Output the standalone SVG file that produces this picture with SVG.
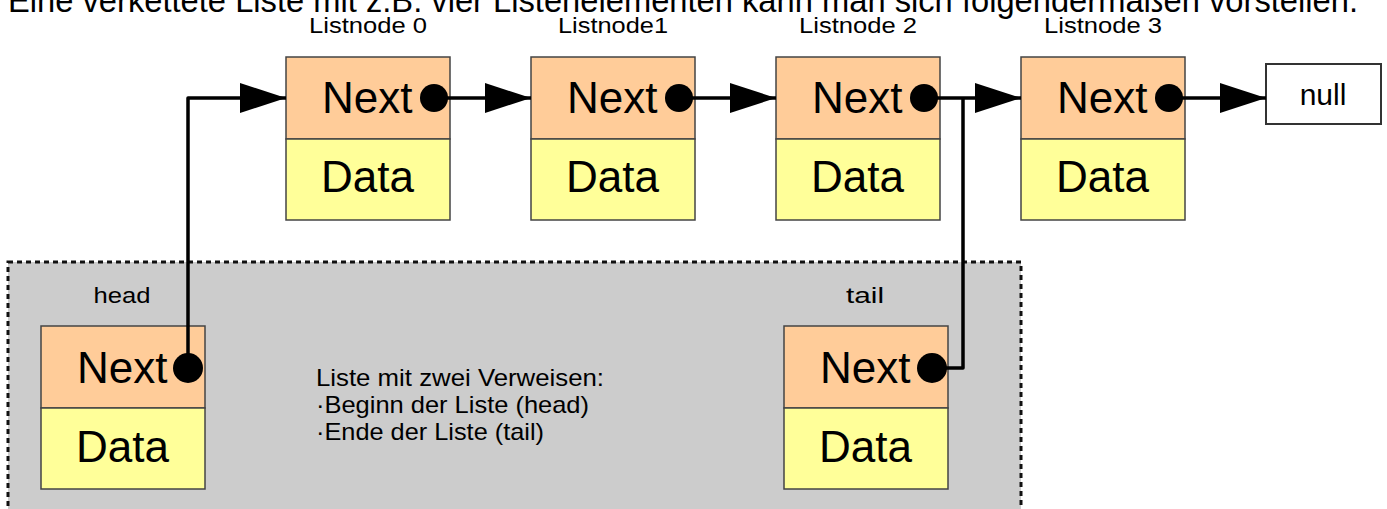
<svg xmlns="http://www.w3.org/2000/svg" width="1387" height="509" viewBox="0 0 1387 509">
<style>
text{font-family:"Liberation Sans",Arial,sans-serif;fill:#000}
.nx{fill:#ffcc99;stroke:#444;stroke-width:1.5}
.dt{fill:#ffff99;stroke:#444;stroke-width:1.5}
.big{font-size:44px}
.lbl{font-size:22px;text-anchor:middle}
.desc{font-size:24px}
.con{fill:none;stroke:#000;stroke-width:3.5;stroke-linejoin:round}
.dot{fill:#000}
</style>
<defs>
<marker id="arr" markerUnits="userSpaceOnUse" markerWidth="46" markerHeight="30" refX="46" refY="15" orient="auto">
<path d="M0,0 L46,15 L0,30 z" fill="#000"/>
</marker>
</defs>
<rect width="1387" height="509" fill="#fff"/>
<text x="8" y="12" style="font-size:33px" textLength="1350" lengthAdjust="spacingAndGlyphs">Eine verkettete Liste mit z.B. vier Listenelementen kann man sich folgendermaßen vorstellen.</text>
<g id="area">
<rect x="8" y="262" width="1013" height="270" fill="#cccccc" stroke="#111" stroke-width="3" stroke-dasharray="5 4"/>
<text x="316" y="386" class="desc" textLength="288" lengthAdjust="spacingAndGlyphs">Liste mit zwei Verweisen:</text>
<text x="316" y="413" class="desc" textLength="273" lengthAdjust="spacingAndGlyphs">·Beginn der Liste (head)</text>
<text x="316" y="440" class="desc" textLength="228" lengthAdjust="spacingAndGlyphs">·Ende der Liste (tail)</text>
</g>
<g id="n0">
<text x="368" y="33" class="lbl" textLength="118" lengthAdjust="spacingAndGlyphs">Listnode 0</text>
<rect x="286" y="57" width="164" height="82" class="nx"/>
<rect x="286" y="139" width="164" height="81" class="dt"/>
<text x="322" y="113" class="big">Next</text>
<text x="321" y="192" class="big">Data</text>
</g>
<g id="n1">
<text x="613" y="33" class="lbl" textLength="110" lengthAdjust="spacingAndGlyphs">Listnode1</text>
<rect x="531" y="57" width="164" height="82" class="nx"/>
<rect x="531" y="139" width="164" height="81" class="dt"/>
<text x="567" y="113" class="big">Next</text>
<text x="566" y="192" class="big">Data</text>
</g>
<g id="n2">
<text x="858" y="33" class="lbl" textLength="118" lengthAdjust="spacingAndGlyphs">Listnode 2</text>
<rect x="776" y="57" width="164" height="82" class="nx"/>
<rect x="776" y="139" width="164" height="81" class="dt"/>
<text x="812" y="113" class="big">Next</text>
<text x="811" y="192" class="big">Data</text>
</g>
<g id="n3">
<text x="1103" y="33" class="lbl" textLength="118" lengthAdjust="spacingAndGlyphs">Listnode 3</text>
<rect x="1021" y="57" width="164" height="82" class="nx"/>
<rect x="1021" y="139" width="164" height="81" class="dt"/>
<text x="1057" y="113" class="big">Next</text>
<text x="1056" y="192" class="big">Data</text>
</g>
<g id="null">
<rect x="1266" y="64" width="115" height="60" fill="#fff" stroke="#333" stroke-width="2"/>
<text x="1323" y="105" style="font-size:30px;text-anchor:middle">null</text>
</g>
<g id="head">
<text x="122" y="303" class="lbl" textLength="57" lengthAdjust="spacingAndGlyphs">head</text>
<rect x="41" y="326" width="164" height="82" class="nx"/>
<rect x="41" y="408" width="164" height="81" class="dt"/>
<text x="77" y="383" class="big">Next</text>
<text x="76" y="462" class="big">Data</text>
</g>
<g id="tail">
<text x="865" y="303" class="lbl" textLength="38" lengthAdjust="spacingAndGlyphs">tail</text>
<rect x="784" y="326" width="164" height="82" class="nx"/>
<rect x="784" y="408" width="164" height="81" class="dt"/>
<text x="820" y="383" class="big">Next</text>
<text x="819" y="462" class="big">Data</text>
</g>
<g id="connectors">
<path class="con" d="M188,368 V98 H286" marker-end="url(#arr)"/>
<path class="con" d="M434,98 H531" marker-end="url(#arr)"/>
<path class="con" d="M679,98 H776" marker-end="url(#arr)"/>
<path class="con" d="M924,98 H1021" marker-end="url(#arr)"/>
<path class="con" d="M1169,98 H1266" marker-end="url(#arr)"/>
<path class="con" d="M932,368 H963 V98"/>
<circle class="dot" cx="434" cy="98" r="14"/>
<circle class="dot" cx="679" cy="98" r="14"/>
<circle class="dot" cx="924" cy="98" r="14"/>
<circle class="dot" cx="1169" cy="98" r="14"/>
<circle class="dot" cx="188" cy="368" r="15"/>
<circle class="dot" cx="932" cy="368" r="15"/>
</g>
</svg>
